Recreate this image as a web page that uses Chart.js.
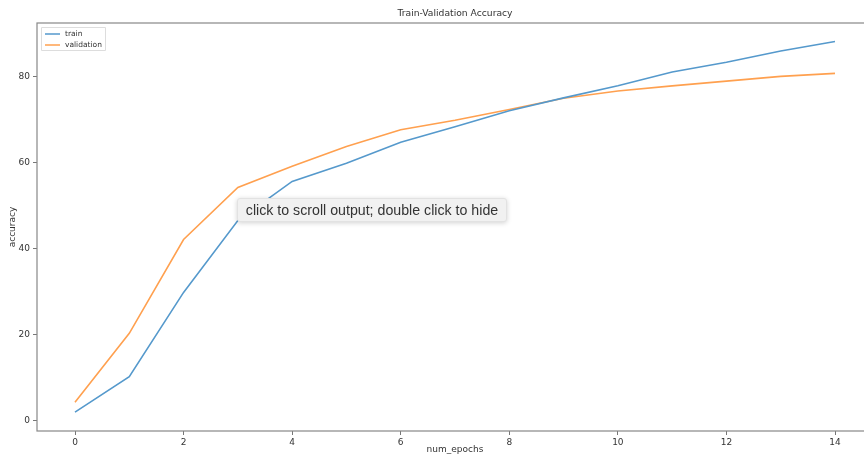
<!DOCTYPE html>
<html>
<head>
<meta charset="utf-8">
<script src="https://cdn.jsdelivr.net/npm/chart.js@4/dist/chart.umd.min.js"></script>
<style>
  body { margin: 0; overflow: hidden; background: #fff; width: 864px; height: 457px; position: relative; }
  #myChart { position: absolute; left: 0; top: 0; }
  #hint {
    position: absolute; left: 237px; top: 198px; width: 270px; height: 24px;
    box-sizing: border-box; background: #f1f1f1; border: 1px solid #e2e2e2; border-radius: 3px;
    box-shadow: 0 1px 5px rgba(0,0,0,0.18);
    font: 14.2px "Liberation Sans", Arial, sans-serif; color: #333;
    line-height: 22px; text-align: center; white-space: nowrap;
  }
</style>
</head>
<body>
<canvas id="myChart" width="880" height="457"></canvas>
<div id="hint">click to scroll output; double click to hide</div>
<script>
var epochs = [0, 1, 2, 3, 4, 5, 6, 7, 8, 9, 10, 11, 12, 13, 14];
var train = [2.0, 10.2, 29.8, 46.5, 55.6, 59.8, 64.7, 68.3, 72.0, 75.0, 77.8, 81.0, 83.3, 85.9, 88.1];
var validation = [4.3, 20.3, 42.1, 54.2, 59.1, 63.7, 67.6, 69.8, 72.3, 74.9, 76.6, 77.8, 78.9, 80.0, 80.7];
var xTicks = [0, 2, 4, 6, 8, 10, 12, 14];
var yTicks = [0, 20, 40, 60, 80];

var lineColors = ["#5599cc", "#ffa04f"];
var font = "DejaVu Sans";

function points(ys) {
  return epochs.map(function (e, i) { return {x: e, y: ys[i]}; });
}

// frame, title, axis labels and legend drawn like matplotlib
var mplDecor = {
  id: "mplDecor",
  afterDraw: function (chart) {
    var ctx = chart.ctx, a = chart.chartArea;
    ctx.save();
    ctx.strokeStyle = "#888";
    ctx.lineWidth = 1.2;
    ctx.strokeRect(a.left, a.top, a.right - a.left, a.bottom - a.top);

    ctx.fillStyle = "#333";
    ctx.textAlign = "center";
    ctx.textBaseline = "middle";
    ctx.font = "9.2px '" + font + "'";
    ctx.fillText("Train-Validation Accuracy", (a.left + a.right) / 2, 14);
    ctx.font = "9px '" + font + "'";
    ctx.fillText("num_epochs", (a.left + a.right) / 2, 450);
    ctx.translate(13, (a.top + a.bottom) / 2);
    ctx.rotate(-Math.PI / 2);
    ctx.fillText("accuracy", 0, 0);
    ctx.restore();

    // legend box
    ctx.save();
    var lx = a.left + 4, ly = a.top + 4;
    ctx.fillStyle = "rgba(255,255,255,0.8)";
    ctx.strokeStyle = "#ddd";
    ctx.lineWidth = 1;
    ctx.beginPath();
    ctx.rect(lx + 0.5, ly + 0.5, 64, 23);
    ctx.fill();
    ctx.stroke();
    ctx.font = "7.5px '" + font + "'";
    ctx.textAlign = "left";
    ctx.textBaseline = "middle";
    chart.data.datasets.forEach(function (ds, i) {
      var yy = ly + 7 + i * 11;
      ctx.strokeStyle = ds.borderColor;
      ctx.lineWidth = 1.5;
      ctx.beginPath();
      ctx.moveTo(lx + 4, yy);
      ctx.lineTo(lx + 19, yy);
      ctx.stroke();
      ctx.fillStyle = "#333";
      ctx.fillText(ds.label, lx + 24, yy);
    });
    ctx.restore();
  }
};

new Chart("myChart", {
  type: "line",
  data: {
    datasets: [{
      label: "train",
      data: points(train),
      borderColor: lineColors[0],
      borderWidth: 1.6,
      pointRadius: 0,
      fill: false
    }, {
      label: "validation",
      data: points(validation),
      borderColor: lineColors[1],
      borderWidth: 1.6,
      pointRadius: 0,
      fill: false
    }]
  },
  options: {
    responsive: false,
    animation: false,
    layout: {padding: {top: 23, right: 7, left: 0, bottom: 0}},
    plugins: {
      legend: {display: false},
      title: {display: false},
      tooltip: {enabled: false}
    },
    scales: {
      x: {
        type: "linear",
        min: -0.7,
        max: 14.7,
        afterBuildTicks: function (s) { s.ticks = xTicks.map(function (v) { return {value: v}; }); },
        afterFit: function (s) { s.height = 26; },
        grid: {drawOnChartArea: false, drawTicks: true, tickLength: 4, color: "#777"},
        border: {display: false},
        ticks: {color: "#333", font: {family: font, size: 9}, padding: 2, maxRotation: 0}
      },
      y: {
        min: -2.4,
        max: 92.4,
        afterBuildTicks: function (s) { s.ticks = yTicks.map(function (v) { return {value: v}; }); },
        afterFit: function (s) { s.width = 37; },
        grid: {drawOnChartArea: false, drawTicks: true, tickLength: 4, color: "#777"},
        border: {display: false},
        ticks: {color: "#333", font: {family: font, size: 9}, padding: 3}
      }
    }
  },
  plugins: [mplDecor]
});
</script>
</body>
</html>
